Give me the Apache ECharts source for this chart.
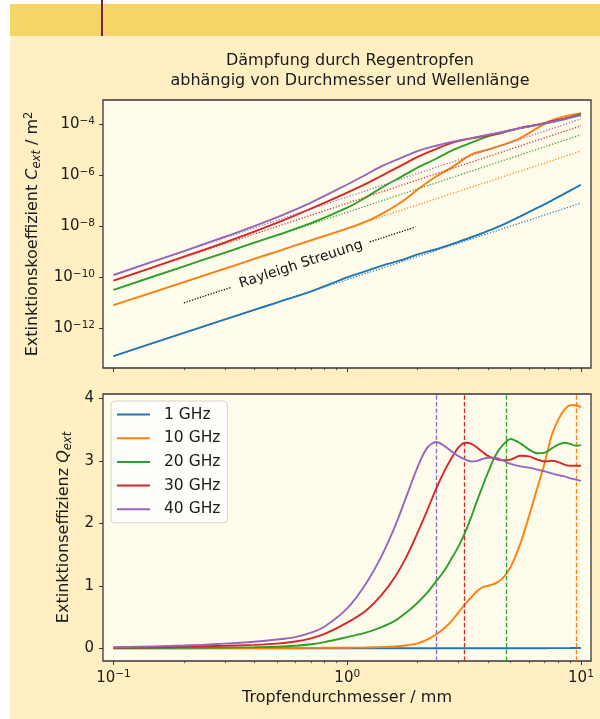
<!DOCTYPE html>
<html>
<head>
<meta charset="utf-8">
<script src="https://cdn.jsdelivr.net/npm/echarts@6/dist/echarts.min.js"></script>
<style>
  html, body { margin: 0; padding: 0; background: #ffffff; }
  #wrap { position: relative; width: 600px; height: 719px; overflow: hidden; }
  #panel { position: absolute; left: 10px; top: 36px; width: 590px; height: 683px; background: #FFEFC2; }
  #band { position: absolute; left: 10px; top: 4px; width: 590px; height: 32px; background: #F5D565; }
  #rule { position: absolute; left: 101px; top: 0; width: 1.5px; height: 36px; background: #7a1f3d; }
  #chart { position: absolute; left: 0; top: 0; width: 600px; height: 719px; }
</style>
</head>
<body>
<div id="wrap">
  <div id="panel"></div>
  <div id="band"></div>
  <div id="rule"></div>
  <div id="chart"></div>
</div>
<script>
// ---------------- data ----------------
const seriesNames = ['1 GHz', '10 GHz', '20 GHz', '30 GHz', '40 GHz'];
const seriesColors = ['#1f77b4', '#ff7f0e', '#2ca02c', '#d62728', '#9467bd'];

// Tick values
const xMajorTicks = [0.1, 1, 10];
const xMinorTicks = [0.2, 0.3, 0.4, 0.5, 0.6, 0.7, 0.8, 0.9, 2, 3, 4, 5, 6, 7, 8, 9];
const yTopTickExponents = [-12, -10, -8, -6, -4];
const yBottomTicks = [0, 1, 2, 3, 4];

// Upper panel: extinction cross-section, given as log10(C_ext / m^2)
const topDiameters = [0.1, 0.2, 0.3, 0.4, 0.5, 0.7, 1.0, 1.2, 1.4, 1.7, 2.0, 2.4, 2.8, 3.4, 4.0, 4.6, 5.5, 6.5, 7.5, 8.5, 10];
const cext1 = [-13.09, -12.18, -11.65, -11.28, -10.99, -10.55, -10.0, -9.76, -9.55, -9.33, -9.1, -8.9, -8.7, -8.43, -8.18, -7.95, -7.61, -7.28, -6.99, -6.72, -6.37];
const cext10 = [-11.09, -10.19, -9.66, -9.28, -8.99, -8.55, -8.09, -7.82, -7.52, -7.06, -6.56, -6.05, -5.69, -5.18, -4.99, -4.82, -4.54, -4.15, -3.85, -3.69, -3.56];
const cext20 = [-10.49, -9.57, -9.03, -8.64, -8.35, -7.88, -7.27, -6.87, -6.49, -6.06, -5.7, -5.35, -5.03, -4.72, -4.47, -4.33, -4.15, -4.03, -3.91, -3.78, -3.59];
const cext30 = [-10.13, -9.19, -8.63, -8.21, -7.87, -7.31, -6.68, -6.34, -6.02, -5.62, -5.28, -4.97, -4.73, -4.55, -4.44, -4.32, -4.14, -4.01, -3.88, -3.78, -3.64];
const cext40 = [-9.91, -8.97, -8.41, -7.99, -7.65, -7.07, -6.36, -5.98, -5.65, -5.32, -5.05, -4.84, -4.69, -4.54, -4.41, -4.3, -4.15, -4.02, -3.91, -3.8, -3.64];

// Rayleigh approximation (dotted), log10(C_ext) at the two ends
const rayleighDiameters = [0.1, 10];
const rayleigh1 = [-13.09, -7.09];
const rayleigh10 = [-11.09, -5.05];
const rayleigh20 = [-10.49, -4.41];
const rayleigh30 = [-10.13, -4.06];
const rayleigh40 = [-9.91, -3.79];

// Black dotted guide segments and the label
const guideDiametersA = [0.2, 0.32];
const guideValuesA = [-11.0, -10.39];
const guideDiametersB = [1.25, 1.96];
const guideValuesB = [-8.61, -8.03];
const guideLabelPoint = [0.634, -9.49];
const guideLabelText = 'Rayleigh Streuung';

// Lower panel: extinction efficiency Q_ext
const diameters = [0.1, 0.2, 0.3, 0.4, 0.5, 0.6, 0.7, 0.8, 1.0, 1.2, 1.4, 1.6, 1.8, 2.0, 2.2, 2.4, 2.6, 2.8, 3.0, 3.2, 3.4, 3.6, 3.8, 4.0, 4.3, 4.6, 5.0, 5.5, 6.0, 6.5, 7.0, 7.5, 8.0, 8.5, 9.0, 9.5, 10];
const q1 = [0.0001, 0.0001, 0.0001, 0.0001, 0.0001, 0.0001, 0.0001, 0.0001, 0.0001, 0.0002, 0.0002, 0.0003, 0.0003, 0.0003, 0.0004, 0.0004, 0.0005, 0.0005, 0.0006, 0.0006, 0.0007, 0.0007, 0.0008, 0.0008, 0.0009, 0.001, 0.0011, 0.0013, 0.0015, 0.0018, 0.0021, 0.0025, 0.003, 0.0035, 0.004, 0.0046, 0.0053];
const q10 = [0.001, 0.002, 0.003, 0.004, 0.005, 0.006, 0.007, 0.008, 0.01, 0.014, 0.02, 0.03, 0.05, 0.08, 0.14, 0.22, 0.32, 0.44, 0.58, 0.71, 0.82, 0.92, 0.98, 1.0, 1.04, 1.11, 1.3, 1.67, 2.12, 2.56, 2.97, 3.41, 3.66, 3.82, 3.89, 3.89, 3.86];
const q20 = [0.004, 0.008, 0.012, 0.018, 0.025, 0.04, 0.065, 0.1, 0.18, 0.25, 0.34, 0.44, 0.58, 0.73, 0.89, 1.07, 1.24, 1.44, 1.64, 1.86, 2.11, 2.37, 2.6, 2.81, 3.08, 3.24, 3.35, 3.28, 3.18, 3.12, 3.13, 3.2, 3.26, 3.29, 3.27, 3.24, 3.25];
const q30 = [0.009, 0.025, 0.04, 0.055, 0.075, 0.11, 0.16, 0.23, 0.41, 0.6, 0.85, 1.14, 1.48, 1.85, 2.21, 2.55, 2.83, 3.05, 3.22, 3.29, 3.27, 3.21, 3.14, 3.08, 3.03, 3.01, 3.02, 3.08, 3.07, 3.02, 2.99, 3.0, 2.98, 2.94, 2.92, 2.92, 2.92];
const q40 = [0.016, 0.045, 0.075, 0.105, 0.14, 0.18, 0.25, 0.35, 0.64, 1.03, 1.47, 1.95, 2.45, 2.9, 3.21, 3.3, 3.24, 3.15, 3.07, 3.02, 2.99, 3.0, 3.03, 3.05, 3.05, 3.01, 2.95, 2.91, 2.89, 2.86, 2.83, 2.8, 2.77, 2.75, 2.72, 2.7, 2.68];

// Vertical dashed markers (diameter in mm) for 10, 20, 30, 40 GHz
const markerDiameters = [null, 9.55, 4.77, 3.18, 2.39];

// ---------------- chart ----------------
const FONT = 'DejaVu Sans';
const INK = '#1a1a1a';
const FRAME = '#363636';

const topValues = [cext1, cext10, cext20, cext30, cext40];
const rayleighValues = [rayleigh1, rayleigh10, rayleigh20, rayleigh30, rayleigh40];
const qValues = [q1, q10, q20, q30, q40];

const lg = Math.log10;
const pairs = (ds, vs) => ds.map((d, i) => [lg(d), vs[i]]);

const X_MIN = -1.045, X_MAX = 1.043;

function powLabel(v) {
  const e = Math.round(v);
  return '{b|10}{s|' + (e < 0 ? '\u2212' : '') + Math.abs(e) + '}';
}
const powRich = {
  b: { fontFamily: FONT, fontSize: 15, color: INK, lineHeight: 18 },
  s: { fontFamily: FONT, fontSize: 10.5, color: INK, lineHeight: 10, verticalAlign: 'top' }
};

function majorXAxis(gridIndex, showLabels) {
  return {
    type: 'value', gridIndex: gridIndex, min: X_MIN, max: X_MAX, position: 'bottom',
    axisLine: { show: false, onZero: false },
    splitLine: { show: false },
    axisTick: { show: true, inside: false, length: 4, customValues: xMajorTicks.map(lg), lineStyle: { color: FRAME, width: 1 } },
    axisLabel: showLabels ? {
      show: true, customValues: xMajorTicks.map(lg), margin: 8, formatter: powLabel, rich: powRich
    } : { show: false },
    name: showLabels ? 'Tropfendurchmesser / mm' : '',
    nameLocation: 'middle', nameGap: 29,
    nameTextStyle: { fontFamily: FONT, fontSize: 16, color: INK }
  };
}
function minorXAxis(gridIndex) {
  return {
    type: 'value', gridIndex: gridIndex, min: X_MIN, max: X_MAX, position: 'bottom', offset: 0,
    axisLine: { show: false, onZero: false },
    splitLine: { show: false },
    axisTick: { show: true, length: 2.2, customValues: xMinorTicks.map(lg), lineStyle: { color: FRAME, width: 0.8 } },
    axisLabel: { show: false }
  };
}

const series = [];
// upper panel: solid curves then dotted Rayleigh lines
seriesNames.forEach((name, i) => {
  series.push({
    name: name, type: 'line', xAxisIndex: 0, yAxisIndex: 0,
    data: pairs(topDiameters, topValues[i]),
    showSymbol: false, symbol: 'none', smooth: 0.3,
    lineStyle: { color: seriesColors[i], width: 1.9 }, itemStyle: { color: seriesColors[i] },
    z: 3 + i
  });
});
seriesNames.forEach((name, i) => {
  series.push({
    name: name + ' Rayleigh', type: 'line', xAxisIndex: 0, yAxisIndex: 0,
    data: pairs(rayleighDiameters, rayleighValues[i]),
    showSymbol: false, symbol: 'none',
    lineStyle: { color: seriesColors[i], width: 1.3, type: [1.3, 1.7], opacity: 0.9 },
    z: 10
  });
});
[[guideDiametersA, guideValuesA], [guideDiametersB, guideValuesB]].forEach(([ds, vs], k) => {
  series.push({
    name: 'guide' + k, type: 'line', xAxisIndex: 0, yAxisIndex: 0,
    data: pairs(ds, vs), showSymbol: false, symbol: 'none',
    lineStyle: { color: '#111', width: 1.3, type: [1.3, 1.5] }, z: 10
  });
});
series.push({
  name: 'guideLabel', type: 'scatter', xAxisIndex: 0, yAxisIndex: 0,
  data: [[lg(guideLabelPoint[0]), guideLabelPoint[1]]],
  symbolSize: 0, silent: true, itemStyle: { color: INK, opacity: 1 },
  label: {
    show: true, position: 'inside', formatter: guideLabelText, rotate: 18,
    fontFamily: FONT, fontSize: 14, color: '#111', opacity: 1, textBorderWidth: 0, textShadowBlur: 0
  },
  z: 12
});
// lower panel
seriesNames.forEach((name, i) => {
  const s = {
    name: name, type: 'line', xAxisIndex: 2, yAxisIndex: 1,
    data: pairs(diameters, qValues[i]),
    showSymbol: false, symbol: 'none', smooth: 0.3,
    lineStyle: { color: seriesColors[i], width: 1.9 }, itemStyle: { color: seriesColors[i] },
    z: 3 + i
  };
  if (markerDiameters[i] !== null) {
    s.markLine = {
      silent: true, symbol: 'none', label: { show: false },
      lineStyle: { color: seriesColors[i], type: [4.5, 2.2], width: 1.3 },
      data: [{ xAxis: lg(markerDiameters[i]) }]
    };
  }
  series.push(s);
});

const chart = echarts.init(document.getElementById('chart'), null, { renderer: 'canvas' });
chart.setOption({
  animation: false,
  backgroundColor: 'transparent',
  textStyle: { fontFamily: FONT },
  graphic: [{
    type: 'text', x: 350, y: 71, z: 100,
    style: {
      text: 'Dämpfung durch Regentropfen\nabhängig von Durchmesser und Wellenlänge',
      fontFamily: FONT, fontSize: 16, lineHeight: 20.6, fill: INK,
      align: 'center', verticalAlign: 'middle'
    }
  }],
  grid: [
    { left: 103, top: 100, width: 488, height: 268, show: true, backgroundColor: '#FFFCEC', borderColor: FRAME, borderWidth: 1.3 },
    { left: 103, top: 394, width: 488, height: 267, show: true, backgroundColor: '#FFFCEC', borderColor: FRAME, borderWidth: 1.3 }
  ],
  xAxis: [majorXAxis(0, false), minorXAxis(0), majorXAxis(1, true), minorXAxis(1)],
  yAxis: [
    {
      type: 'value', gridIndex: 0, min: -13.557, max: -3.047, position: 'left',
      axisLine: { show: false, onZero: false }, splitLine: { show: false },
      axisTick: { show: true, length: 4, customValues: yTopTickExponents, lineStyle: { color: FRAME, width: 1 } },
      axisLabel: { show: true, customValues: yTopTickExponents, margin: 8, formatter: powLabel, rich: powRich },
      name: '{n|Extinktionskoeffizient }{i|C}{sub|ext}{n| / m}{sup|2}',
      nameLocation: 'middle', nameRotate: 90, nameGap: 59.5,
      nameTextStyle: {
        rich: {
          n: { fontFamily: FONT, fontSize: 16, color: INK, lineHeight: 20 },
          i: { fontFamily: FONT, fontSize: 16, fontStyle: 'italic', color: INK, lineHeight: 20 },
          sub: { fontFamily: FONT, fontSize: 11.5, fontStyle: 'italic', color: INK, lineHeight: 12, verticalAlign: 'bottom' },
          sup: { fontFamily: FONT, fontSize: 11.5, color: INK, lineHeight: 11, verticalAlign: 'top' }
        }
      }
    },
    {
      type: 'value', gridIndex: 1, min: -0.203, max: 4.069, position: 'left',
      axisLine: { show: false, onZero: false }, splitLine: { show: false },
      axisTick: { show: true, length: 4, customValues: yBottomTicks, lineStyle: { color: FRAME, width: 1 } },
      axisLabel: { show: true, customValues: yBottomTicks, margin: 9, fontFamily: FONT, fontSize: 15, color: INK },
      name: '{n|Extinktionseffizienz }{i|Q}{sub|ext}',
      nameLocation: 'middle', nameRotate: 90, nameGap: 21.5,
      nameTextStyle: {
        rich: {
          n: { fontFamily: FONT, fontSize: 16, color: INK, lineHeight: 20 },
          i: { fontFamily: FONT, fontSize: 16, fontStyle: 'italic', color: INK, lineHeight: 20 },
          sub: { fontFamily: FONT, fontSize: 11.5, fontStyle: 'italic', color: INK, lineHeight: 12, verticalAlign: 'bottom' }
        }
      }
    }
  ],
  legend: {
    data: seriesNames,
    orient: 'vertical', left: 111, top: 401,
    icon: 'rect', itemWidth: 33, itemHeight: 2, itemGap: 6.7,
    padding: [5, 7, 5, 6],
    backgroundColor: 'rgba(255,255,255,0.75)', borderColor: '#d6d3c8', borderWidth: 1, borderRadius: 4,
    textStyle: { fontFamily: FONT, fontSize: 15.5, color: INK, lineHeight: 17, padding: [0, 0, 0, 9] },
    selectedMode: false
  },
  series: series
});
</script>
</body>
</html>
